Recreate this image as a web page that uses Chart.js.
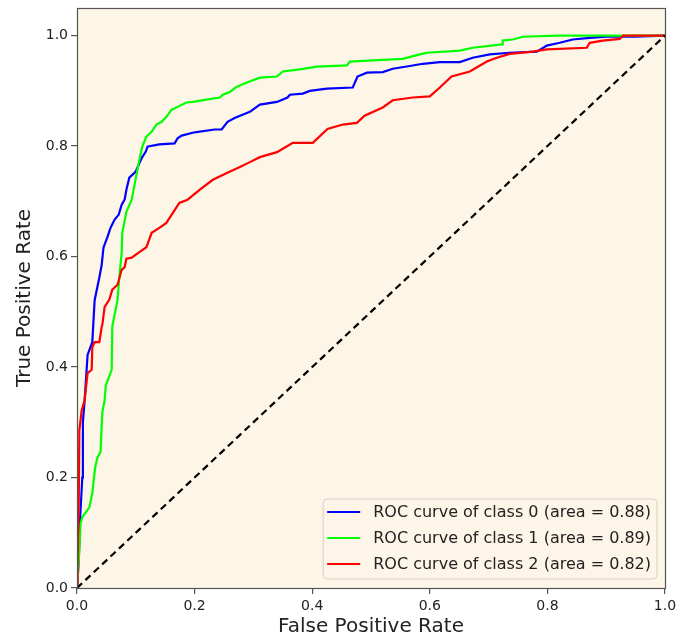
<!DOCTYPE html>
<html>
<head>
<meta charset="utf-8">
<script src="https://cdn.jsdelivr.net/npm/chart.js@4.4.0/dist/chart.umd.min.js"></script>
<style>
  html, body { margin: 0; padding: 0; background: #ffffff; }
  #c { display: block; }
</style>
</head>
<body>
<canvas id="c" width="689" height="639"></canvas>
<script>
// ---- Data ----
const fpr0 = [0,0.003,0.005,0.009,0.010,0.013,0.018,0.026,0.030,0.038,0.042,0.045,0.052,0.057,0.064,0.071,0.076,0.081,0.084,0.089,0.100,0.106,0.111,0.117,0.120,0.129,0.140,0.166,0.171,0.178,0.200,0.234,0.246,0.256,0.268,0.294,0.311,0.340,0.358,0.362,0.384,0.396,0.425,0.469,0.477,0.493,0.520,0.537,0.566,0.588,0.617,0.651,0.673,0.702,0.736,0.782,0.799,0.821,0.843,0.872,0.901,0.949,1.0];
const tpr0 = [0,0.05,0.12,0.20,0.30,0.34,0.422,0.445,0.521,0.562,0.585,0.616,0.636,0.652,0.667,0.676,0.694,0.703,0.721,0.743,0.754,0.769,0.780,0.790,0.799,0.801,0.803,0.805,0.814,0.819,0.825,0.830,0.830,0.844,0.851,0.862,0.875,0.880,0.888,0.893,0.895,0.900,0.904,0.906,0.926,0.933,0.934,0.940,0.945,0.949,0.952,0.952,0.960,0.966,0.969,0.971,0.982,0.987,0.993,0.996,0.998,0.998,1.0];

const fpr1 = [0,0.003,0.006,0.009,0.021,0.026,0.031,0.035,0.040,0.043,0.047,0.049,0.059,0.060,0.069,0.072,0.076,0.077,0.084,0.093,0.106,0.111,0.118,0.127,0.135,0.144,0.152,0.161,0.171,0.186,0.197,0.220,0.243,0.248,0.260,0.271,0.289,0.311,0.340,0.350,0.379,0.408,0.459,0.464,0.520,0.554,0.583,0.595,0.651,0.673,0.723,0.724,0.741,0.758,0.816,1.0];
const tpr1 = [0,0.05,0.117,0.128,0.146,0.172,0.219,0.237,0.246,0.317,0.340,0.367,0.395,0.473,0.522,0.563,0.607,0.643,0.681,0.703,0.775,0.799,0.817,0.826,0.839,0.844,0.853,0.866,0.871,0.879,0.880,0.884,0.888,0.893,0.898,0.907,0.915,0.924,0.926,0.935,0.939,0.944,0.946,0.953,0.956,0.958,0.966,0.969,0.973,0.978,0.984,0.991,0.993,0.998,1.0,1.0];

const fpr2 = [0,0.001,0.003,0.004,0.008,0.013,0.018,0.025,0.026,0.030,0.038,0.042,0.043,0.047,0.055,0.060,0.069,0.076,0.081,0.084,0.093,0.106,0.118,0.127,0.140,0.152,0.163,0.174,0.188,0.209,0.231,0.254,0.277,0.294,0.311,0.340,0.367,0.401,0.426,0.452,0.476,0.489,0.520,0.537,0.571,0.600,0.617,0.637,0.668,0.697,0.714,0.736,0.775,0.799,0.867,0.872,0.894,0.923,0.929,1.0];
const tpr2 = [0,0.05,0.159,0.286,0.322,0.340,0.389,0.395,0.436,0.445,0.445,0.473,0.476,0.509,0.522,0.540,0.549,0.576,0.581,0.596,0.598,0.608,0.617,0.643,0.652,0.661,0.679,0.697,0.703,0.721,0.739,0.751,0.762,0.771,0.780,0.789,0.806,0.806,0.831,0.839,0.842,0.855,0.870,0.883,0.888,0.890,0.906,0.926,0.935,0.953,0.960,0.967,0.971,0.975,0.978,0.987,0.991,0.994,1.0,1.0];

const chanceX = [0, 1];
const chanceY = [0, 1];

const seriesLabels = [
  'ROC curve of class 0 (area = 0.88)',
  'ROC curve of class 1 (area = 0.89)',
  'ROC curve of class 2 (area = 0.82)'
];
const tickValues = [0, 0.2, 0.4, 0.6, 0.8, 1.0];
const xTitle = 'False Positive Rate';
const yTitle = 'True Positive Rate';

// ---- helpers ----
const pts = (xs, ys) => xs.map((x, i) => ({ x: x, y: ys[i] }));
const FONT = '"DejaVu Sans", "Liberation Sans", sans-serif';
const TEXT = '#222222';
const PLOT_BG = '#fdf5e6';
const FRAME = '#555555';

const bgPlugin = {
  id: 'plotBg',
  beforeDraw(chart) {
    const { ctx, chartArea: a } = chart;
    ctx.save();
    ctx.fillStyle = '#ffffff';
    ctx.fillRect(0, 0, chart.width, chart.height);
    ctx.fillStyle = PLOT_BG;
    ctx.fillRect(a.left, a.top, a.right - a.left, a.bottom - a.top);
    ctx.restore();
  }
};

const framePlugin = {
  id: 'plotFrame',
  afterDatasetsDraw(chart) {
    const { ctx, chartArea: a } = chart;
    ctx.save();
    ctx.strokeStyle = FRAME;
    ctx.lineWidth = 1.2;
    ctx.strokeRect(Math.round(a.left) + 0.5, Math.round(a.top) + 0.5,
                   Math.round(a.right - a.left), Math.round(a.bottom - a.top));
    ctx.restore();
  }
};

const legendPlugin = {
  id: 'boxLegend',
  afterDraw(chart) {
    const { ctx, chartArea: a } = chart;
    const items = chart.data.datasets.filter(d => d.inLegend);
    ctx.save();
    ctx.font = '16px ' + FONT;
    let tw = 0;
    items.forEach(d => { tw = Math.max(tw, ctx.measureText(d.label).width); });
    const padL = 4, sample = 33, gap = 13, padR = 6, rowH = 26;
    const w = padL + sample + gap + tw + padR;
    const h = items.length * rowH + 2;
    const x0 = a.right - 8 - w;
    const y0 = a.bottom - 9 - h;
    const r = 4;
    ctx.beginPath();
    ctx.moveTo(x0 + r, y0);
    ctx.lineTo(x0 + w - r, y0);
    ctx.arcTo(x0 + w, y0, x0 + w, y0 + r, r);
    ctx.lineTo(x0 + w, y0 + h - r);
    ctx.arcTo(x0 + w, y0 + h, x0 + w - r, y0 + h, r);
    ctx.lineTo(x0 + r, y0 + h);
    ctx.arcTo(x0, y0 + h, x0, y0 + h - r, r);
    ctx.lineTo(x0, y0 + r);
    ctx.arcTo(x0, y0, x0 + r, y0, r);
    ctx.closePath();
    ctx.fillStyle = 'rgba(253,245,230,0.85)';
    ctx.fill();
    ctx.strokeStyle = '#d6d0c6';
    ctx.lineWidth = 1;
    ctx.stroke();
    items.forEach((d, i) => {
      const cy = y0 + 13 + i * rowH;
      ctx.beginPath();
      ctx.strokeStyle = d.borderColor;
      ctx.lineWidth = 2.2;
      ctx.moveTo(x0 + padL, cy);
      ctx.lineTo(x0 + padL + sample, cy);
      ctx.stroke();
      ctx.fillStyle = TEXT;
      ctx.textBaseline = 'middle';
      ctx.textAlign = 'left';
      ctx.fillText(d.label, x0 + padL + sample + gap, cy + 1);
    });
    ctx.restore();
  }
};

const lineDs = (label, data, color, order) => ({
  label: label,
  data: data,
  borderColor: color,
  backgroundColor: color,
  borderWidth: 2.2,
  pointRadius: 0,
  pointHoverRadius: 0,
  tension: 0,
  fill: false,
  order: order,
  inLegend: true
});

const axisCommon = {
  type: 'linear',
  grid: {
    display: true,
    drawOnChartArea: false,
    drawTicks: true,
    tickLength: 6,
    tickColor: FRAME,
    lineWidth: 1.2
  },
  border: { display: false },
  afterBuildTicks(scale) {
    scale.ticks = tickValues.map(v => ({ value: v }));
  }
};

new Chart(document.getElementById('c').getContext('2d'), {
  type: 'line',
  data: {
    datasets: [
      lineDs(seriesLabels[0], pts(fpr0, tpr0), '#0000ff', 3),
      lineDs(seriesLabels[1], pts(fpr1, tpr1), '#00ff00', 2),
      lineDs(seriesLabels[2], pts(fpr2, tpr2), '#ff0000', 1),
      {
        label: 'chance',
        data: pts(chanceX, chanceY),
        borderColor: '#000000',
        borderWidth: 2.2,
        borderDash: [7, 4.5],
        pointRadius: 0,
        tension: 0,
        fill: false,
        order: 0,
        inLegend: false
      }
    ]
  },
  options: {
    responsive: false,
    animation: false,
    events: [],
    layout: { padding: { top: 8, right: 24, left: 0, bottom: 0 } },
    scales: {
      x: Object.assign({}, axisCommon, {
        min: 0, max: 1,
        position: 'bottom',
        ticks: {
          font: { family: FONT, size: 14 },
          color: TEXT,
          padding: 4,
          maxRotation: 0,
          autoSkip: false,
          callback: v => Number(v).toFixed(1)
        },
        title: {
          display: true,
          text: xTitle,
          font: { family: FONT, size: 20 },
          color: TEXT,
          padding: { top: 0, bottom: 0 }
        },
        afterFit(scale) { scale.height = 51; scale.paddingLeft = 0; scale.paddingRight = 0; }
      }),
      y: Object.assign({}, axisCommon, {
        min: 0, max: 1.05,
        position: 'left',
        ticks: {
          font: { family: FONT, size: 14 },
          color: TEXT,
          padding: 3,
          autoSkip: false,
          callback: v => Number(v).toFixed(1)
        },
        title: {
          display: true,
          text: yTitle,
          font: { family: FONT, size: 20 },
          color: TEXT,
          padding: { top: 13, bottom: 0 }
        },
        afterFit(scale) { scale.width = 77; scale.paddingTop = 0; scale.paddingBottom = 0; }
      })
    },
    plugins: {
      legend: { display: false },
      tooltip: { enabled: false }
    }
  },
  plugins: [bgPlugin, framePlugin, legendPlugin]
});
</script>
</body>
</html>
